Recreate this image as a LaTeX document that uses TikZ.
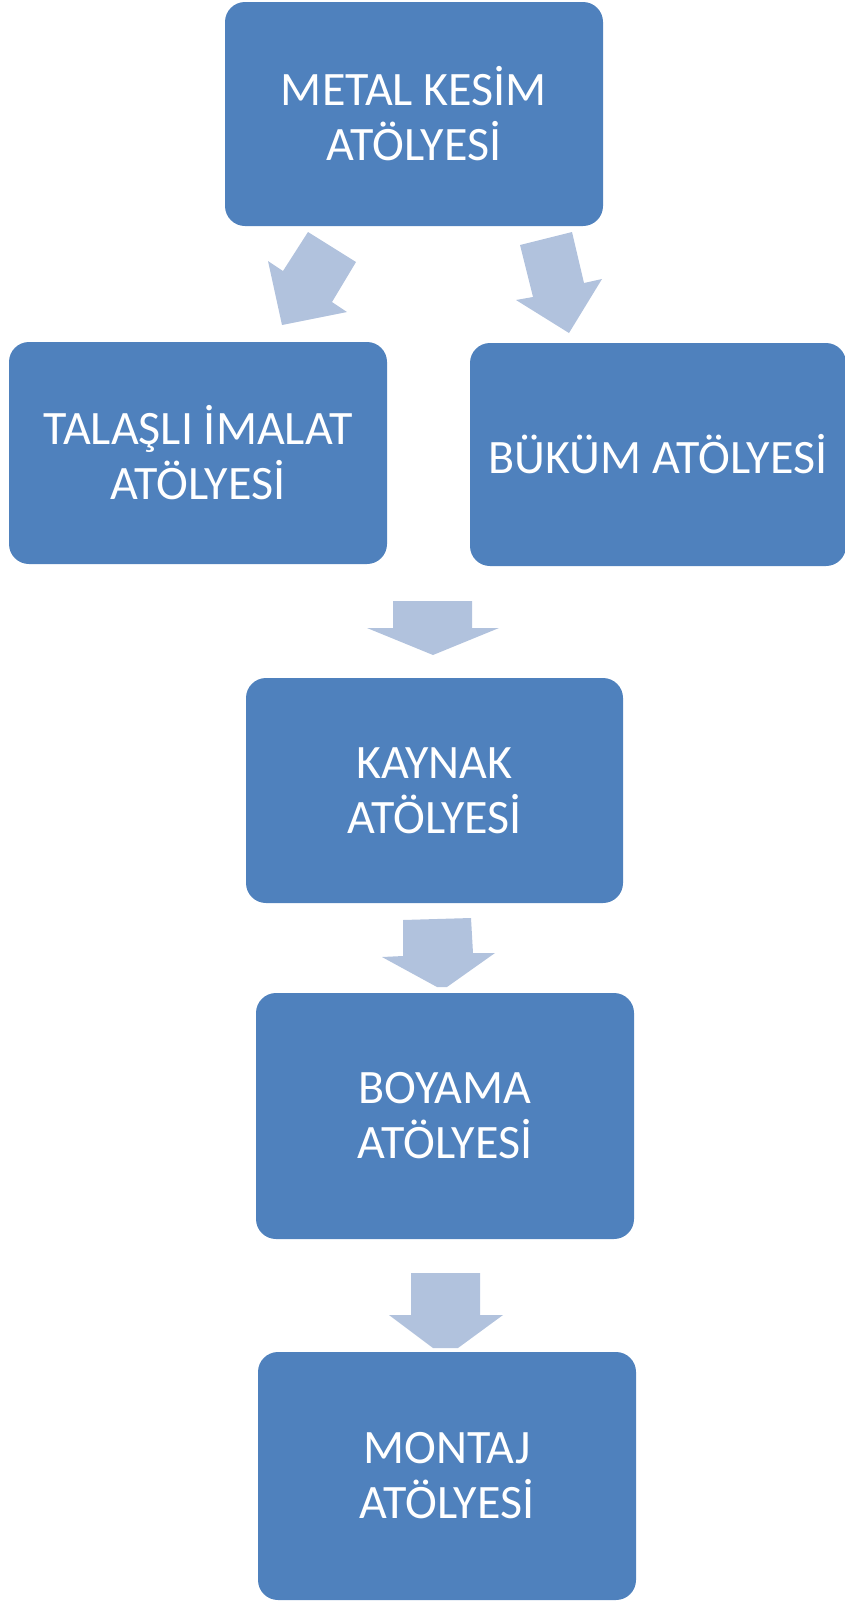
\documentclass[tikz,border=0pt]{standalone}
\usepackage{fontspec}
\setmainfont{Carlito}
\usepackage{tikz}

\definecolor{boxblue}{RGB}{79,129,189}
\definecolor{arrowblue}{RGB}{177,194,221}

\begin{document}
\begin{tikzpicture}[x=1pt, y=-1pt, align=center,
  box/.style={rectangle, rounded corners=20pt, fill=boxblue, text=white,
    inner sep=0pt, font=\fontsize{48}{55}\selectfont},
  flow/.style={fill=arrowblue}]

\useasboundingbox (0,0) rectangle (845,1601);

% arrows between the boxes
\fill[flow] (308,232) -- (356,262) -- (332,302) -- (347,312) -- (282,325) -- (268,261) -- (283,271) -- cycle;
\fill[flow] (520,245) -- (572,232) -- (584,283) -- (602,279) -- (569,333) -- (516,300) -- (533,297) -- cycle;
\fill[flow] (393,601) -- (472,601) -- (472,628) -- (499,628) -- (433,655) -- (367,628) -- (393,628) -- cycle;
\fill[flow] (403,920) -- (471,918) -- (473,953) -- (495,953) -- (447,987) -- (437,987) -- (382,957) -- (403,956) -- cycle;
\fill[flow] (411,1273) -- (480,1273) -- (480,1315) -- (503,1315) -- (458,1348) -- (433,1348) -- (389,1315) -- (411,1315) -- cycle;

\node[box, minimum width=378pt, minimum height=224pt] (kesim) at (414, 114) {METAL KESİM\\ATÖLYESİ};
\node[box, minimum width=378pt, minimum height=222pt] (talasli) at (198, 453) {TALAŞLI İMALAT\\ATÖLYESİ};
\node[box, minimum width=376pt, minimum height=223pt] (bukum) at (658, 454.5) {BÜKÜM ATÖLYESİ};
\node[box, minimum width=377pt, minimum height=225pt] (kaynak) at (434.5, 790.5) {KAYNAK\\ATÖLYESİ};
\node[box, minimum width=378pt, minimum height=246pt] (boyama) at (445, 1116) {BOYAMA\\ATÖLYESİ};
\node[box, minimum width=378pt, minimum height=248pt] (montaj) at (447, 1476) {MONTAJ\\ATÖLYESİ};

\end{tikzpicture}
\end{document}
